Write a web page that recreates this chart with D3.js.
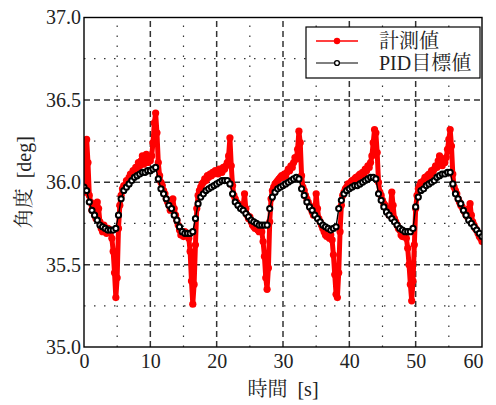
<!DOCTYPE html>
<html>
<head>
<meta charset="utf-8">
<script src="https://cdn.jsdelivr.net/npm/d3@7"></script>
<style>
  body { margin: 0; background: #fff; }
  svg text { font-family: 'Liberation Serif', 'Noto Serif CJK JP', 'Noto Sans CJK JP', serif; fill: #222; }
</style>
</head>
<body>
<svg id="chart" width="496" height="405"></svg>
<script>
const xTicks = [0, 10, 20, 30, 40, 50, 60];
const yTicks = [35.0, 35.5, 36.0, 36.5, 37.0];
const xMinor = [5, 15, 25, 35, 45, 55];
const yMinor = [35.25, 35.75, 36.25, 36.75];

// 計測値, sampled every 0.2 s from 0 to 60 s
const measured = [
  35.94, 36.06, 36.26, 36.12, 35.92, 35.88, 35.83, 35.85, 35.80, 35.78,
  35.88, 35.84, 35.76, 35.72, 35.70, 35.74, 35.71, 35.69, 35.72, 35.70,
  35.71, 35.66, 35.58, 35.45, 35.30, 35.42, 35.72, 35.86, 35.92, 35.96,
  35.98, 35.97, 36.01, 36.00, 36.03, 36.05, 36.04, 36.07, 36.06, 36.09,
  36.08, 36.12, 36.10, 36.13, 36.16, 36.11, 36.14, 36.17, 36.12, 36.15,
  36.13, 36.16, 36.24, 36.36, 36.42, 36.30, 36.12, 36.04, 36.00, 35.98,
  35.95, 35.93, 35.90, 35.88, 35.86, 35.83, 35.85, 35.90, 35.84, 35.80,
  35.77, 35.74, 35.71, 35.68, 35.69, 35.67, 35.70, 35.68, 35.69, 35.66,
  35.58, 35.40, 35.26, 35.38, 35.62, 35.84, 35.92, 35.95, 35.97, 35.99,
  36.00, 36.02, 36.01, 36.04, 36.03, 36.05, 36.04, 36.06, 36.05, 36.07,
  36.06, 36.05, 36.08, 36.07, 36.06, 36.09, 36.08, 36.10, 36.12, 36.16,
  36.27, 36.10, 35.98, 35.92, 35.90, 35.88, 35.87, 35.86, 35.85, 35.84,
  35.86, 35.93, 35.84, 35.80, 35.78, 35.79, 35.76, 35.74, 35.73, 35.72,
  35.72, 35.71, 35.70, 35.72, 35.70, 35.64, 35.55, 35.42, 35.35, 35.48,
  35.76, 35.90, 35.95, 35.97, 35.99, 36.00, 36.01, 36.02, 36.03, 36.04,
  36.03, 36.05, 36.04, 36.06, 36.08, 36.07, 36.10, 36.09, 36.12, 36.15,
  36.14, 36.20, 36.31, 36.24, 36.04, 35.97, 35.95, 35.92, 35.90, 35.88,
  35.86, 35.84, 35.82, 35.80, 35.82, 35.93, 35.84, 35.78, 35.76, 35.74,
  35.72, 35.70, 35.68, 35.67, 35.69, 35.66, 35.68, 35.65, 35.56, 35.44,
  35.32, 35.30, 35.45, 35.70, 35.86, 35.92, 35.94, 35.96, 35.97, 35.99,
  35.98, 36.00, 36.01, 36.00, 36.02, 36.03, 36.02, 36.04, 36.05, 36.04,
  36.06, 36.05, 36.08, 36.07, 36.10, 36.09, 36.12, 36.16, 36.24, 36.32,
  36.30, 36.18, 36.00, 35.94, 35.92, 35.89, 35.87, 35.86, 35.84, 35.82,
  35.80, 35.84, 35.94, 35.86, 35.78, 35.76, 35.74, 35.72, 35.71, 35.68,
  35.67, 35.69, 35.68, 35.66, 35.60, 35.50, 35.38, 35.28, 35.40, 35.62,
  35.84, 35.92, 35.96, 35.98, 36.00, 35.99, 36.01, 36.03, 36.02, 36.04,
  36.05, 36.04, 36.07, 36.06, 36.08, 36.10, 36.09, 36.13, 36.16, 36.11,
  36.10, 36.14, 36.12, 36.15, 36.20, 36.26, 36.32, 36.22, 36.05, 35.97,
  35.95, 35.93, 35.90, 35.88, 35.86, 35.85, 35.83, 35.82, 35.80, 35.79,
  35.84, 35.87, 35.80, 35.76, 35.74, 35.72, 35.71, 35.69, 35.67, 35.66,
  35.64
];

// PID目標値, sampled every 0.4 s from 0 to 60 s
const target = [
  35.97, 35.95, 35.88, 35.83, 35.80, 35.77, 35.74, 35.73, 35.72, 35.71,
  35.71, 35.71, 35.72, 35.80, 35.90, 35.95, 35.97, 35.99, 36.01, 36.03,
  36.04, 36.05, 36.06, 36.06, 36.07, 36.07, 36.08, 36.09, 36.02, 35.96,
  35.93, 35.90, 35.86, 35.84, 35.80, 35.77, 35.73, 35.70, 35.69, 35.69,
  35.69, 35.70, 35.78, 35.87, 35.91, 35.93, 35.95, 35.96, 35.97, 35.98,
  35.99, 36.00, 36.01, 36.01, 36.01, 35.99, 35.93, 35.88, 35.86, 35.84,
  35.83, 35.81, 35.79, 35.77, 35.76, 35.75, 35.74, 35.74, 35.74, 35.74,
  35.84, 35.91, 35.94, 35.96, 35.97, 35.98, 35.99, 36.00, 36.01, 36.02,
  36.03, 36.02, 35.96, 35.92, 35.88, 35.85, 35.83, 35.80, 35.78, 35.76,
  35.74, 35.73, 35.72, 35.71, 35.72, 35.73, 35.84, 35.89, 35.93, 35.95,
  35.96, 35.97, 35.98, 35.98, 35.99, 36.00, 36.01, 36.02, 36.03, 36.03,
  36.02, 35.93, 35.89, 35.85, 35.82, 35.80, 35.78, 35.76, 35.74, 35.72,
  35.71, 35.70, 35.70, 35.70, 35.72, 35.85, 35.91, 35.95, 35.96, 35.98,
  35.99, 36.00, 36.01, 36.03, 36.04, 36.05, 36.05, 36.06, 36.06, 35.99,
  35.93, 35.90, 35.87, 35.83, 35.80, 35.77, 35.75, 35.73, 35.71, 35.69,
  35.67
];

const tMax = 60;
const measuredPts = measured.map((v, i) => ({ t: (i * tMax) / (measured.length - 1), v }));
const targetPts = target.map((v, i) => ({ t: (i * tMax) / (target.length - 1), v }));

const margin = { left: 84, right: 14, top: 17.5, bottom: 58 };
const W = 496;
const H = 405;

const x = d3.scaleLinear().domain([0, 60]).range([margin.left, W - margin.right]);
const y = d3.scaleLinear().domain([35, 37]).range([H - margin.bottom, margin.top]);

const svg = d3.select('#chart');

svg.append('defs')
  .append('clipPath')
  .attr('id', 'plot-clip')
  .append('rect')
  .attr('x', x(0))
  .attr('y', y(37))
  .attr('width', x(60) - x(0))
  .attr('height', y(35) - y(37));

// grid: minor dotted, major dashed
const grid = svg.append('g');

grid.selectAll('.xminor')
  .data(xMinor)
  .join('line')
  .attr('x1', (d) => x(d)).attr('x2', (d) => x(d))
  .attr('y1', y(35)).attr('y2', y(37))
  .attr('stroke', '#333').attr('stroke-width', 1.2)
  .attr('stroke-dasharray', '1.5,8.5');

grid.selectAll('.yminor')
  .data(yMinor)
  .join('line')
  .attr('x1', x(0)).attr('x2', x(60))
  .attr('y1', (d) => y(d)).attr('y2', (d) => y(d))
  .attr('stroke', '#333').attr('stroke-width', 1.2)
  .attr('stroke-dasharray', '1.5,8.5');

grid.selectAll('.xmajor')
  .data(xTicks.slice(1, -1))
  .join('line')
  .attr('x1', (d) => x(d)).attr('x2', (d) => x(d))
  .attr('y1', y(35)).attr('y2', y(37))
  .attr('stroke', '#333').attr('stroke-width', 1.5)
  .attr('stroke-dasharray', '6,4');

grid.selectAll('.ymajor')
  .data(yTicks.slice(1, -1))
  .join('line')
  .attr('x1', x(0)).attr('x2', x(60))
  .attr('y1', (d) => y(d)).attr('y2', (d) => y(d))
  .attr('stroke', '#333').attr('stroke-width', 1.5)
  .attr('stroke-dasharray', '6,4');

// data
const plot = svg.append('g').attr('clip-path', 'url(#plot-clip)');
const line = d3.line().x((d) => x(d.t)).y((d) => y(d.v));

plot.append('path')
  .datum(measuredPts)
  .attr('d', line)
  .attr('fill', 'none')
  .attr('stroke', '#ff0000')
  .attr('stroke-width', 5)
  .attr('stroke-linejoin', 'round');

plot.append('g')
  .selectAll('circle')
  .data(measuredPts)
  .join('circle')
  .attr('cx', (d) => x(d.t))
  .attr('cy', (d) => y(d.v))
  .attr('r', 3.6)
  .attr('fill', '#ff0000');

plot.append('path')
  .datum(targetPts)
  .attr('d', line)
  .attr('fill', 'none')
  .attr('stroke', '#000')
  .attr('stroke-width', 1.4);

plot.append('g')
  .selectAll('circle')
  .data(targetPts)
  .join('circle')
  .attr('cx', (d) => x(d.t))
  .attr('cy', (d) => y(d.v))
  .attr('r', 2.6)
  .attr('fill', '#fff')
  .attr('stroke', '#000')
  .attr('stroke-width', 2);

// frame
svg.append('rect')
  .attr('x', x(0)).attr('y', y(37))
  .attr('width', x(60) - x(0)).attr('height', y(35) - y(37))
  .attr('fill', 'none').attr('stroke', '#000').attr('stroke-width', 1.4);

// tick labels
svg.append('g')
  .attr('transform', `translate(0,${y(35)})`)
  .call(d3.axisBottom(x).tickValues(xTicks).tickSize(0).tickPadding(7).tickFormat(d3.format('d')))
  .call((g) => g.select('.domain').remove())
  .call((g) => g.selectAll('text')
    .attr('font-size', 20)
    .attr('fill', '#222')
    .style('font-family', "'Liberation Serif', serif")
    .attr('text-anchor', (d) => (d === 60 ? 'end' : 'middle'))
    .attr('dx', (d) => (d === 60 ? 1 : 0)));

svg.append('g')
  .attr('transform', `translate(${x(0)},0)`)
  .call(d3.axisLeft(y).tickValues(yTicks).tickSize(0).tickPadding(3).tickFormat(d3.format('.1f')))
  .call((g) => g.select('.domain').remove())
  .call((g) => g.selectAll('text')
    .attr('font-size', 20)
    .attr('fill', '#222')
    .style('font-family', "'Liberation Serif', serif"));

// axis titles
svg.append('text')
  .attr('x', (x(0) + x(60)) / 2)
  .attr('y', 396)
  .attr('text-anchor', 'middle')
  .attr('font-size', 20)
  .text('時間\u2002[s]');

svg.append('text')
  .attr('transform', `translate(31,${(y(35) + y(37)) / 2}) rotate(-90)`)
  .attr('text-anchor', 'middle')
  .attr('font-size', 20)
  .text('角度\u2002[deg]');

// legend
const legend = svg.append('g').attr('transform', 'translate(306,27)');
legend.append('rect')
  .attr('width', 174).attr('height', 51)
  .attr('fill', '#fff').attr('stroke', '#000').attr('stroke-width', 1.2);

const legendItems = [
  { label: '計測値', color: '#ff0000', fill: '#ff0000', r: 3.2, w: 1.5, sw: 0 },
  { label: 'PID目標値', color: '#000', fill: '#fff', r: 2.4, w: 1, sw: 1.4 },
];

legendItems.forEach((d, i) => {
  const row = legend.append('g').attr('transform', `translate(0,${14 + i * 22})`);
  row.append('line')
    .attr('x1', 10).attr('x2', 52)
    .attr('stroke', d.color).attr('stroke-width', d.w);
  row.append('circle')
    .attr('cx', 31).attr('r', d.r)
    .attr('fill', d.fill).attr('stroke', d.color).attr('stroke-width', d.sw);
  row.append('text')
    .attr('x', 73).attr('y', 7)
    .attr('font-size', 20)
    .text(d.label);
});
</script>
</body>
</html>
